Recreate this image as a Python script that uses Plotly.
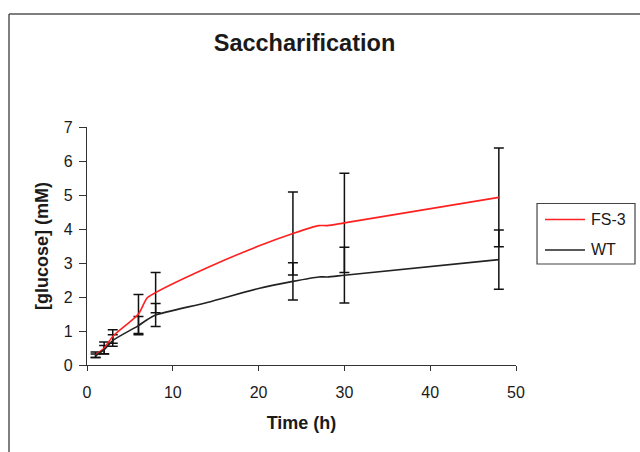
import plotly.graph_objects as go

# Sampling times (h)
time_h = [1, 2, 3, 6, 7, 8, 14, 20, 24, 27, 28, 30, 48]

# Mean glucose release (mM)
fs3_glucose = [0.30, 0.50, 0.84, 1.50, 1.97, 2.13, 2.86, 3.50, 3.87, 4.10, 4.10, 4.18, 4.93]
wt_glucose = [0.27, 0.45, 0.72, 1.16, 1.33, 1.47, 1.84, 2.25, 2.46, 2.59, 2.59, 2.64, 3.10]

# Standard deviations (None where no replicate spread was recorded)
fs3_sd = [0.08, 0.18, 0.20, 0.57, None, 0.59, None, None, 1.22, None, None, 1.46, 1.45]
wt_sd = [0.05, 0.12, 0.17, 0.27, None, 0.34, None, None, 0.55, None, None, 0.82, 0.87]

x_ticks = [0, 10, 20, 30, 40, 50]
y_ticks = [0, 1, 2, 3, 4, 5, 6, 7]

FONT = "Liberation Sans, Arial, sans-serif"
INK = "#1a1a1a"
AXIS = "#333333"

fig = go.Figure()

series = [
    ("FS-3", fs3_glucose, fs3_sd, "#ff2020"),
    ("WT", wt_glucose, wt_sd, "#222222"),
]

# Error bars only where a spread was measured
for name, values, sd, colour in series:
    keep = [i for i, s in enumerate(sd) if s is not None]
    fig.add_trace(
        go.Scatter(
            x=[time_h[i] for i in keep],
            y=[values[i] for i in keep],
            mode="markers",
            marker=dict(size=1, opacity=0),
            showlegend=False,
            hoverinfo="skip",
            error_y=dict(
                type="data",
                array=[sd[i] for i in keep],
                symmetric=True,
                visible=True,
                color="#111111",
                thickness=1.5,
                width=5,
            ),
        )
    )

# Smoothed mean curves
for name, values, sd, colour in series:
    fig.add_trace(
        go.Scatter(
            x=time_h,
            y=values,
            name=name,
            mode="lines",
            showlegend=False,
            line=dict(color=colour, width=1.6, shape="spline", smoothing=0.7),
        )
    )

axis_common = dict(
    showline=True,
    linecolor=AXIS,
    linewidth=1.3,
    ticks="outside",
    tickcolor=AXIS,
    tickwidth=1.3,
    showgrid=False,
    zeroline=False,
    tickfont=dict(family=FONT, size=16, color=INK),
    fixedrange=True,
)

fig.update_xaxes(
    range=[0, 50],
    tickvals=x_ticks,
    ticktext=[str(v) for v in x_ticks],
    ticklen=5,
    ticklabelstandoff=8,
    title=dict(
        text="<b>Time (h)</b>",
        font=dict(family=FONT, size=18, color=INK),
        standoff=16,
    ),
    **axis_common,
)
fig.update_yaxes(
    range=[0, 7],
    tickvals=y_ticks,
    ticktext=[str(v) for v in y_ticks],
    ticklen=7,
    ticklabelstandoff=3,
    title=dict(
        text="<b>[glucose] (mM)</b>",
        font=dict(family=FONT, size=18, color=INK),
        standoff=10,
    ),
    **axis_common,
)

# Outer chart-area frame (left and top edges)
frame = dict(type="line", xref="paper", yref="paper",
             line=dict(color="#555555", width=1.5), layer="above")
fig.add_shape(x0=-0.1818, y0=1.4748, x1=-0.1818, y1=-0.45, **frame)
fig.add_shape(x0=-0.1818, y0=1.4748, x1=1.35, y1=1.4748, **frame)

# Legend box with line samples and series names
fig.add_shape(type="rect", xref="paper", yref="paper",
              x0=1.049, y0=0.4244, x1=1.2774, y1=0.6786,
              line=dict(color="#444444", width=1.2), fillcolor="white")
legend_rows = [0.6113, 0.4832]
for (name, values, sd, colour), row_y in zip(series, legend_rows):
    fig.add_shape(type="line", xref="paper", yref="paper",
                  x0=1.0676, x1=1.1608, y0=row_y, y1=row_y,
                  line=dict(color=colour, width=1.6))
    fig.add_annotation(text=name, xref="paper", yref="paper",
                       x=1.1702, y=row_y, xanchor="left", yanchor="middle",
                       showarrow=False,
                       font=dict(family=FONT, size=16, color=INK))

fig.update_layout(
    width=640,
    height=452,
    margin=dict(l=87, r=124, t=127, b=87, autoexpand=False),
    paper_bgcolor="white",
    plot_bgcolor="white",
    showlegend=False,
    title=dict(
        text="<b>Saccharification</b>",
        font=dict(family=FONT, size=23.5, color=INK),
        xref="container",
        yref="container",
        x=304.5 / 640,
        y=1 - 42.5 / 452,
        xanchor="center",
        yanchor="middle",
    ),
)

fig.write_html("out.html")
